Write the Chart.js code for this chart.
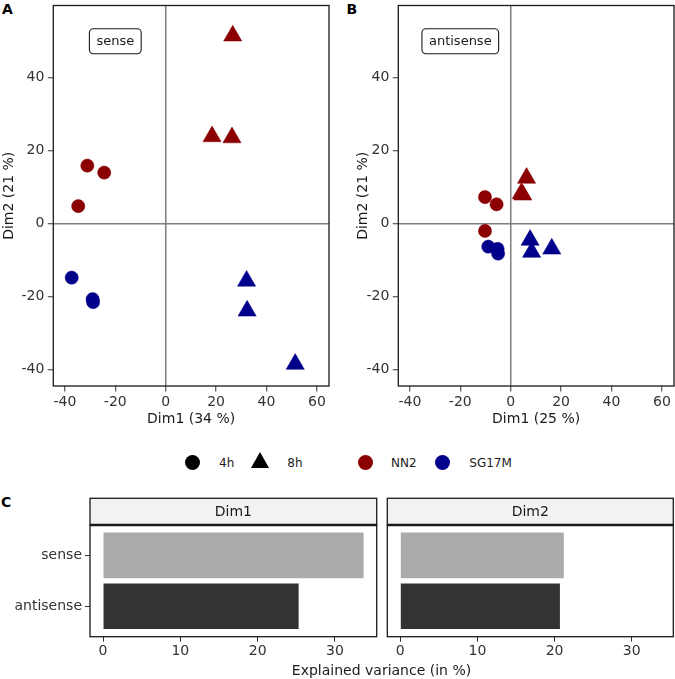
<!DOCTYPE html>
<html>
<head>
<meta charset="utf-8">
<script src="https://cdn.jsdelivr.net/npm/chart.js@4.4.1/dist/chart.umd.min.js"></script>
<style>
body { margin: 0; background: #fff; width: 675px; height: 679px; position: relative; overflow: hidden; font-family: 'DejaVu Sans', sans-serif; }
canvas { position: absolute; }
.tag { position: absolute; font-weight: bold; font-size: 14px; line-height: 1; color: #000; }
.txt { position: absolute; line-height: 1; color: #1a1a1a; white-space: nowrap; }
</style>
</head>
<body>
<div class="tag" style="left:2px;top:2.3px">A</div>
<div class="tag" style="left:346.5px;top:2.3px">B</div>
<div class="tag" style="left:1px;top:495px">C</div>
<canvas id="senseChart" width="337" height="440" style="left:0;top:0"></canvas>
<canvas id="antisenseChart" width="338" height="440" style="left:337px;top:0"></canvas>
<div id="legend"></div>
<canvas id="dim1Chart" width="380" height="189" style="left:0;top:490px"></canvas>
<canvas id="dim2Chart" width="295" height="189" style="left:380px;top:490px"></canvas>
<div class="txt" id="varTitle" style="left:181.5px;width:400px;text-align:center;top:662.5px;font-size:14px"></div>
<script>
var timeLabels = ['4h', '8h'];
var strainLabels = ['NN2', 'SG17M'];
var strainColors = ['#8B0000', '#00008B'];
var xTicks = [-40, -20, 0, 20, 40, 60];
var yTicks = [-40, -20, 0, 20, 40];

// panel A - sense (Dim1, Dim2)
var senseNN2_4h = [[-31.1, 15.9], [-24.4, 14.0], [-34.7, 4.8]];
var senseNN2_8h = [[26.6, 51.5], [18.4, 23.9], [26.3, 23.6]];
var senseSG17M_4h = [[-37.3, -14.8], [-29.0, -20.7], [-28.8, -21.5]];
var senseSG17M_8h = [[32.1, -15.7], [32.3, -23.9], [51.4, -38.5]];

// panel B - antisense
var antiNN2_4h = [[-10.2, 7.3], [-5.6, 5.3], [-10.2, -2.0]];
var antiNN2_8h = [[6.3, 12.5], [4.2, 8.3], [4.8, 7.9]];
var antiSG17M_4h = [[-8.9, -6.3], [-5.2, -6.9], [-5.0, -8.2]];
var antiSG17M_8h = [[7.7, -4.5], [8.3, -7.8], [16.3, -6.9]];

// panel C - explained variance
var libraries = ['sense', 'antisense'];
var dim1Variance = [33.7, 25.3];
var dim2Variance = [21.2, 20.7];
var varianceTicks = [0, 10, 20, 30];
var facetLabels = ['Dim1', 'Dim2'];

var fontFamily = "'DejaVu Sans', sans-serif";
Chart.defaults.font.family = fontFamily;
Chart.defaults.color = '#333';

var panelFrame = {
    id: 'panelFrame',
    afterDatasetsDraw: function (chart) {
        var a = chart.chartArea, ctx = chart.ctx;
        ctx.save();
        ctx.strokeStyle = '#1a1a1a';
        ctx.lineWidth = 1.3;
        ctx.strokeRect(a.left, a.top, a.right - a.left, a.bottom - a.top);
        ctx.restore();
    }
};

var labelBox = {
    id: 'labelBox',
    afterDatasetsDraw: function (chart, args, opts) {
        var ctx = chart.ctx;
        var cx = chart.scales.x.getPixelForValue(opts.x);
        var cy = chart.scales.y.getPixelForValue(opts.y);
        ctx.save();
        ctx.font = '13px ' + fontFamily;
        var w = ctx.measureText(opts.text).width + 14, h = 25;
        ctx.beginPath();
        ctx.roundRect(cx - w / 2, cy - h / 2, w, h, 4);
        ctx.fillStyle = '#fff';
        ctx.fill();
        ctx.strokeStyle = '#1a1a1a';
        ctx.lineWidth = 1.1;
        ctx.stroke();
        ctx.fillStyle = '#1a1a1a';
        ctx.textAlign = 'center';
        ctx.textBaseline = 'middle';
        ctx.fillText(opts.text, cx, cy + 0.5);
        ctx.restore();
    }
};

var stripBox = {
    id: 'stripBox',
    afterDraw: function (chart, args, opts) {
        var a = chart.chartArea, ctx = chart.ctx, h = 26.7;
        ctx.save();
        ctx.fillStyle = '#f2f2f2';
        ctx.fillRect(a.left, a.top - h, a.right - a.left, h);
        ctx.strokeStyle = '#1a1a1a';
        ctx.lineWidth = 1.3;
        ctx.strokeRect(a.left, a.top - h, a.right - a.left, h);
        ctx.lineWidth = 2.6;
        ctx.beginPath();
        ctx.moveTo(a.left, a.top);
        ctx.lineTo(a.right, a.top);
        ctx.stroke();
        ctx.fillStyle = '#1a1a1a';
        ctx.font = '14px ' + fontFamily;
        ctx.textAlign = 'center';
        ctx.textBaseline = 'middle';
        ctx.fillText(opts.text, (a.left + a.right) / 2, a.top - h / 2 + 1);
        ctx.restore();
    }
};

function toPoints(pairs) {
    return pairs.map(function (p) { return { x: p[0], y: p[1] }; });
}

function pointSet(pairs, color, shape) {
    return {
        data: toPoints(pairs),
        pointStyle: shape,
        pointRadius: shape === 'triangle' ? 10.5 : 6.6,
        backgroundColor: color,
        borderColor: color,
        borderWidth: 0.5,
        showLine: false
    };
}

function zeroGrid(ctx) {
    return ctx.tick && ctx.tick.value === 0 ? '#7f7f7f' : 'rgba(0,0,0,0)';
}

// fixed axis sizes, no extra label overhang padding
function fixHeight(h) {
    return function (s) { s.height = h; s.paddingLeft = 0; s.paddingRight = 0; };
}
function fixWidth(w) {
    return function (s) { s.width = w; s.paddingTop = 0; s.paddingBottom = 0; };
}

function makeScatter(id, sets, xTitle, yTitle, boxText, yWidth, yTitlePad, padRight) {
    return new Chart(document.getElementById(id), {
        type: 'scatter',
        data: { datasets: sets },
        options: {
            responsive: false,
            animation: false,
            layout: { autoPadding: false, padding: { top: 5.5, right: padRight, left: 0, bottom: 0 } },
            plugins: {
                legend: { display: false },
                tooltip: { enabled: false },
                labelBox: { text: boxText, x: -20, y: 50 }
            },
            scales: {
                x: {
                    type: 'linear', min: -44.6, max: 64.8,
                    afterBuildTicks: function (s) { s.ticks = xTicks.map(function (v) { return { value: v }; }); },
                    afterFit: fixHeight(54),
                    grid: { color: zeroGrid, lineWidth: 1.5, tickColor: '#333', tickWidth: 1, tickLength: 5.5 },
                    border: { display: false },
                    ticks: { color: '#333', font: { size: 14 }, padding: 2, maxRotation: 0, autoSkip: false },
                    title: { display: true, text: xTitle, color: '#1a1a1a', font: { size: 14 }, padding: { top: 0, bottom: 12.6 } }
                },
                y: {
                    type: 'linear', min: -44.5, max: 59.8,
                    afterBuildTicks: function (s) { s.ticks = yTicks.map(function (v) { return { value: v }; }); },
                    afterFit: fixWidth(yWidth),
                    grid: { color: zeroGrid, lineWidth: 1.5, tickColor: '#333', tickWidth: 1, tickLength: 5.5 },
                    border: { display: false },
                    ticks: { color: '#333', font: { size: 14 }, padding: 3.4, autoSkip: false },
                    title: { display: true, text: yTitle, color: '#1a1a1a', font: { size: 14 }, padding: { top: yTitlePad, bottom: 0 } }
                }
            }
        },
        plugins: [panelFrame, labelBox]
    });
}

makeScatter('senseChart', [
    pointSet(senseNN2_4h, strainColors[0], 'circle'),
    pointSet(senseNN2_8h, strainColors[0], 'triangle'),
    pointSet(senseSG17M_4h, strainColors[1], 'circle'),
    pointSet(senseSG17M_8h, strainColors[1], 'triangle')
], 'Dim1 (34 %)', 'Dim2 (21 %)', 'sense', 53.3, 0.8, 8);

makeScatter('antisenseChart', [
    pointSet(antiNN2_4h, strainColors[0], 'circle'),
    pointSet(antiNN2_8h, strainColors[0], 'triangle'),
    pointSet(antiSG17M_4h, strainColors[1], 'circle'),
    pointSet(antiSG17M_8h, strainColors[1], 'triangle')
], 'Dim1 (25 %)', 'Dim2 (21 %)', 'antisense', 61.3, 18.4, 1);

// legend (shape keys then colour keys)
var legend = document.getElementById('legend');
function addKey(html, style) {
    var d = document.createElement('div');
    d.innerHTML = html;
    d.style.cssText = 'position:absolute;' + style;
    legend.appendChild(d);
    return d;
}
addKey('', 'left:184.8px;top:455px;width:15px;height:15px;border-radius:50%;background:#000');
addKey('', 'left:250.7px;top:451.7px;width:0;height:0;border-left:9.7px solid transparent;border-right:9.7px solid transparent;border-bottom:16.7px solid #000');
var keyCircles = [357.5, 434.8];
var keyTextLeft = [219, 287.3, 391, 469.3];
timeLabels.forEach(function (t, i) {
    addKey(t, 'left:' + keyTextLeft[i] + 'px;top:456.7px;font-size:12px;line-height:1;color:#1a1a1a');
});
strainLabels.forEach(function (s, i) {
    addKey('', 'left:' + keyCircles[i] + 'px;top:455px;width:15px;height:15px;border-radius:50%;background:' + strainColors[i]);
    addKey(s, 'left:' + keyTextLeft[i + 2] + 'px;top:456.7px;font-size:12px;line-height:1;color:#1a1a1a');
});

document.getElementById('varTitle').textContent = 'Explained variance (in %)';

var barColors = ['#ababab', '#333333'];

function makeBars(id, values, facet, showLabels, pad) {
    return new Chart(document.getElementById(id), {
        type: 'bar',
        data: {
            datasets: [{
                data: libraries.map(function (lib, i) { return { x: values[i], y: i }; }),
                backgroundColor: barColors,
                borderWidth: 0,
                barPercentage: 0.9,
                categoryPercentage: 1
            }]
        },
        options: {
            indexAxis: 'y',
            responsive: false,
            animation: false,
            layout: { autoPadding: false, padding: pad },
            plugins: {
                legend: { display: false },
                tooltip: { enabled: false },
                stripBox: { text: facet }
            },
            scales: {
                y: {
                    type: 'linear', min: -0.6, max: 1.6, reverse: true,
                    offset: false,
                    display: showLabels,
                    afterBuildTicks: function (s) { s.ticks = libraries.map(function (l, i) { return { value: i }; }); },
                    afterFit: fixWidth(showLabels ? 90 : 0),
                    grid: { offset: false, drawOnChartArea: false, tickColor: '#333', tickLength: 5, tickWidth: 1 },
                    border: { display: false },
                    ticks: { color: '#333', font: { size: 14 }, padding: 3, autoSkip: false, callback: function (v) { return libraries[v]; } }
                },
                x: {
                    type: 'linear', min: -1.685, max: 35.4,
                    afterBuildTicks: function (s) { s.ticks = varianceTicks.map(function (v) { return { value: v }; }); },
                    afterFit: fixHeight(42.3),
                    grid: { drawOnChartArea: false, tickColor: '#333', tickLength: 5, tickWidth: 1 },
                    border: { display: false },
                    ticks: { color: '#333', font: { size: 14 }, padding: 1.6, maxRotation: 0, autoSkip: false }
                }
            }
        },
        plugins: [panelFrame, stripBox]
    });
}

makeBars('dim1Chart', dim1Variance, facetLabels[0], true, { top: 35, right: 3.3, left: 0, bottom: 0 });
makeBars('dim2Chart', dim2Variance, facetLabels[1], false, { top: 35, right: 1.7, left: 7.3, bottom: 0 });
</script>
</body>
</html>
